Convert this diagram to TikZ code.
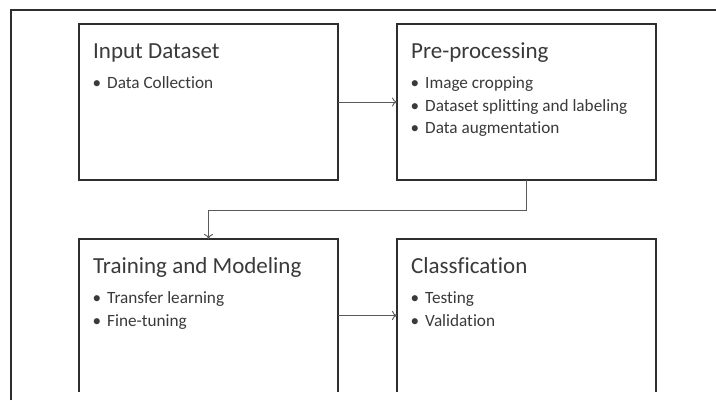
\documentclass[tikz,border=0pt]{standalone}
\usepackage{fontspec}
\setmainfont[Ligatures=NoCommon]{Carlito}
\usetikzlibrary{arrows.meta,calc}
\definecolor{linec}{HTML}{2E2E2E}
\definecolor{arrc}{HTML}{5A5A5A}
\definecolor{txtc}{HTML}{3A3A3A}
\begin{document}
\begin{tikzpicture}[x=1pt,y=-1pt,
  box/.style={rectangle,draw=none,minimum width=259pt,inner sep=0pt,outer sep=0pt},
  outline/.style={draw=linec,line width=1.9pt},
  frame/.style={draw=linec,line width=1.3pt},
  arr/.style={draw=arrc,line width=0.9pt,-{To[length=5pt,width=9pt]}},
  title/.style={anchor=base west,inner sep=0pt,text=txtc,font=\fontsize{23}{27}\selectfont},
  item/.style={anchor=base west,inner sep=0pt,text=txtc,font=\fontsize{17.2}{22.5}\selectfont}
]
\useasboundingbox (0,0) rectangle (716,400);
\fill[white] (0,0) rectangle (716,400);
% outer frame (cut by the image edges)
\draw[frame] (11,400) -- (11,10) -- (716,10);

% boxes
\node[box,minimum height=156pt,outline] (b1) at (208.5,102) {};
\node[box,minimum height=156pt,outline] (b2) at (526.5,102) {};
\node[box,minimum height=153pt] (b3) at (208.5,315.5) {};
\node[box,minimum height=153pt] (b4) at (526.5,315.5) {};
\draw[outline] (b3.south west) -- (b3.north west) -- (b3.north east) -- (b3.south east);
\draw[outline] (b4.south west) -- (b4.north west) -- (b4.north east) -- (b4.south east);

% texts
\newcommand{\bl}{\makebox[14pt][l]{\hspace{-0.5pt}\textbullet}}
\node[title] (t1) at ($(b1.north west)+(14,34)$) {Input Dataset};
\node[item] (i1a) at ($(b1.north west)+(14,64.5)$) {\bl Data Collection};

\node[title] (t2) at ($(b2.north west)+(14,34)$) {Pre-processing};
\node[item] (i2a) at ($(b2.north west)+(14,64.5)$) {\bl Image cropping};
\node[item] (i2b) at ($(b2.north west)+(14,87)$) {\bl Dataset splitting and labeling};
\node[item] (i2c) at ($(b2.north west)+(14,109.5)$) {\bl Data augmentation};

\node[title] (t3) at ($(b3.north west)+(14,34)$) {Training and Modeling};
\node[item] (i3a) at ($(b3.north west)+(14,64.5)$) {\bl Transfer learning};
\node[item] (i3b) at ($(b3.north west)+(14,87)$) {\bl Fine-tuning};

\node[title] (t4) at ($(b4.north west)+(14,34)$) {Classfication};
\node[item] (i4a) at ($(b4.north west)+(14,64.5)$) {\bl Testing};
\node[item] (i4b) at ($(b4.north west)+(14,87)$) {\bl Validation};

% connectors
\draw[arr] (b1.east) -- (b2.west);
\draw[arr] (b2.south) -- ++(0,30) -| (b3.north);
\draw[arr] (b3.east) -- (b4.west);
\end{tikzpicture}
\end{document}
